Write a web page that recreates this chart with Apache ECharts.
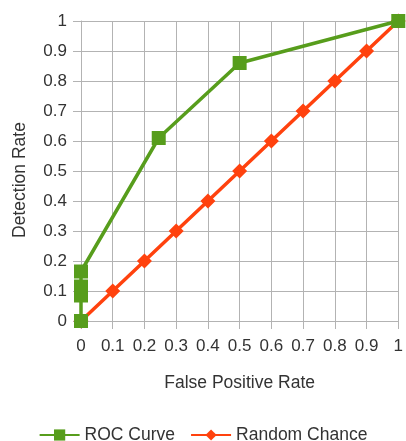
<!DOCTYPE html>
<html><head><meta charset="utf-8">
<script src="https://cdn.jsdelivr.net/npm/echarts@6/dist/echarts.min.js"></script>
<style>html,body{margin:0;padding:0;background:#fff}#c{width:406px;height:441px}</style>
</head><body><div id="c"></div>
<script>
const rocX = [0, 0, 0, 0, 0.245, 0.5, 1];
const rocY = [0, 0.085, 0.115, 0.165, 0.61, 0.86, 1];
const randX = [0, 0.1, 0.2, 0.3, 0.4, 0.5, 0.6, 0.7, 0.8, 0.9, 1];
const randY = [0, 0.1, 0.2, 0.3, 0.4, 0.5, 0.6, 0.7, 0.8, 0.9, 1];
const seriesNames = ['ROC Curve', 'Random Chance'];
const xName = 'False Positive Rate';
const yName = 'Detection Rate';

const font = 'Liberation Sans';
const txt = '#333333';
const grid = '#b3b3b3';
const fmt = v => String(+(+v).toFixed(1));

const chart = echarts.init(document.getElementById('c'));
chart.setOption({
  animation: false,
  textStyle: {fontFamily: font},
  grid: {left: 81, right: 5, top: 21, bottom: 120, containLabel: false},
  xAxis: {
    type: 'value', min: 0, max: 1, interval: 0.1,
    name: xName, nameLocation: 'middle', nameGap: 53,
    nameTextStyle: {fontSize: 17.5, color: txt, fontFamily: font},
    axisLine: {show: true, lineStyle: {color: grid, width: 1}},
    axisTick: {show: true, length: 8, inside: false, lineStyle: {color: grid}},
    axisLabel: {fontSize: 17, color: txt, margin: 17, fontFamily: font, formatter: fmt},
    splitLine: {show: true, lineStyle: {color: grid, width: 1}}
  },
  yAxis: {
    type: 'value', min: 0, max: 1, interval: 0.1,
    name: yName, nameLocation: 'middle', nameGap: 52, nameRotate: 90,
    nameTextStyle: {fontSize: 17.5, color: txt, fontFamily: font, padding: [0, 18, 0, 0]},
    axisLine: {show: true, lineStyle: {color: grid, width: 1}},
    axisTick: {show: true, length: 8, lineStyle: {color: grid}},
    axisLabel: {fontSize: 17, color: txt, margin: 14, fontFamily: font, formatter: fmt},
    splitLine: {show: true, lineStyle: {color: grid, width: 1}}
  },
  legend: {
    bottom: -8, left: 'center', itemWidth: 40, itemHeight: 14, itemGap: 15,
    textStyle: {fontSize: 17.5, color: txt, fontFamily: font},
    data: seriesNames
  },
  series: [
    {
      name: seriesNames[0], type: 'line', z: 3, clip: false,
      data: rocX.map((x, i) => [x, rocY[i]]),
      symbol: 'rect', symbolSize: 14,
      itemStyle: {color: '#579d1c'},
      lineStyle: {color: '#579d1c', width: 3.5}
    },
    {
      name: seriesNames[1], type: 'line', z: 2, clip: false,
      data: randX.map((x, i) => [x, randY[i]]),
      symbol: 'diamond', symbolSize: 15,
      itemStyle: {color: '#ff420e'},
      lineStyle: {color: '#ff420e', width: 3.5}
    }
  ]
});
</script></body></html>
